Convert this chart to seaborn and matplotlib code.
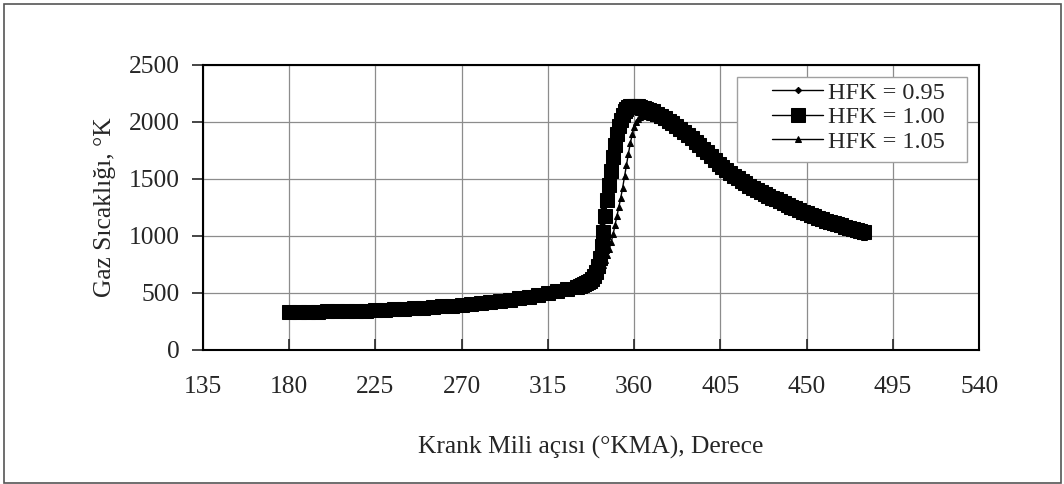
import matplotlib
matplotlib.use("Agg")
import matplotlib.pyplot as plt
import pandas as pd
import seaborn as sns
from matplotlib.patches import Rectangle

# crank angle (deg) - same grid for all three runs
angle = [180, 185, 190, 195, 200, 205, 210, 215, 220, 225, 230, 235, 240, 245, 250,
         255, 260, 265, 270, 275, 280, 285, 290, 295, 300, 305, 310, 315, 320, 325, 330,
         332, 333, 334, 335, 336, 337, 338, 339, 340, 341, 342, 343, 344, 345, 346, 347,
         348, 349, 350, 351, 352, 353, 354, 355, 356, 357, 358, 359, 360, 361, 362, 363,
         364, 365, 366,
         368, 370, 372, 374, 376, 378, 380, 382, 384, 386, 388, 390, 392, 394, 396, 398,
         400, 402, 404, 406, 408, 410, 412, 414, 416, 418, 420, 422, 424, 426, 428, 430,
         432, 434, 436, 438, 440, 442, 444, 446, 448, 450, 452, 454, 456, 458, 460, 462,
         464, 466, 468, 470, 472, 474, 476, 478, 480]

temp_095 = [323, 326, 329, 331, 333, 335, 337, 339, 340, 342, 346, 350, 355, 360, 366,
            372, 378, 384, 390, 397, 405, 414, 424, 436, 449, 463, 477, 491, 507, 526, 548,
            562, 569, 578, 590, 605, 628, 660, 710, 780, 870, 980, 1110, 1250, 1390, 1530, 1660,
            1780, 1875, 1950, 2000, 2040, 2063, 2080, 2090, 2095, 2098, 2100, 2098, 2095, 2092, 2088, 2083,
            2078, 2073, 2068,
            2057, 2045, 2030, 2013, 1995, 1975, 1955, 1934, 1912, 1889, 1863, 1835, 1807, 1779, 1750, 1720,
            1690, 1656, 1622, 1592, 1566, 1540, 1516, 1492, 1470, 1449, 1428, 1409, 1391, 1374, 1358, 1342,
            1326, 1310, 1294, 1278, 1263, 1248, 1233, 1218, 1203, 1189, 1176, 1163, 1150, 1138, 1126, 1115,
            1104, 1094, 1084, 1074, 1064, 1055, 1046, 1037, 1028]

temp_100 = [325, 328, 331, 333, 335, 337, 339, 341, 342, 344, 348, 352, 357, 362, 368,
            374, 380, 386, 392, 399, 407, 416, 426, 438, 451, 465, 479, 493, 510, 530, 552,
            560, 565, 572, 580, 590, 603, 620, 645, 680, 730, 800, 905, 1030, 1170, 1310, 1445,
            1570, 1690, 1800, 1890, 1960, 2015, 2060, 2092, 2115, 2128, 2135, 2139, 2140, 2138, 2135, 2130,
            2125, 2120, 2115,
            2103, 2090, 2072, 2051, 2030, 2008, 1985, 1961, 1937, 1912, 1884, 1855, 1825, 1795, 1764, 1732,
            1700, 1666, 1632, 1602, 1576, 1550, 1526, 1502, 1479, 1458, 1437, 1418, 1399, 1382, 1366, 1350,
            1334, 1318, 1302, 1286, 1270, 1255, 1240, 1225, 1210, 1195, 1182, 1169, 1156, 1144, 1132, 1121,
            1110, 1100, 1090, 1080, 1070, 1061, 1052, 1043, 1035]

temp_105 = [321, 324, 327, 329, 331, 333, 335, 337, 338, 340, 344, 348, 353, 358, 364,
            370, 376, 382, 388, 395, 403, 412, 422, 434, 447, 461, 475, 489, 505, 524, 545,
            555, 560, 565, 571, 578, 586, 595, 608, 625, 645, 670, 702, 740, 782, 830, 880,
            940, 1010, 1090, 1170, 1250, 1330, 1420, 1520, 1620, 1720, 1810, 1890, 1950, 1995, 2025, 2042,
            2050, 2052, 2050,
            2042, 2030, 2015, 1999, 1981, 1961, 1940, 1917, 1893, 1867, 1839, 1810, 1780, 1750, 1719, 1687,
            1655, 1621, 1587, 1557, 1531, 1505, 1481, 1457, 1435, 1413, 1392, 1373, 1354, 1337, 1320, 1304,
            1288, 1272, 1256, 1240, 1225, 1210, 1195, 1180, 1165, 1150, 1137, 1124, 1111, 1099, 1087, 1076,
            1065, 1055, 1045, 1035, 1026, 1017, 1008, 999, 990]

labels = ["HFK = 0.95", "HFK = 1.00", "HFK = 1.05"]
x_ticks = [135, 180, 225, 270, 315, 360, 405, 450, 495, 540]
y_ticks = [0, 500, 1000, 1500, 2000, 2500]

sns.set_style("white")
plt.rcParams["font.family"] = ["Liberation Serif", "DejaVu Serif"]

fig = plt.figure(figsize=(10.64, 4.84), dpi=100)
ax = fig.add_axes([202.7 / 1064, 1 - 349.5 / 484, 776.6 / 1064, 284.7 / 484])

# outer frame of the picture
fig.patches.append(Rectangle((4 / 1064, 1 / 484), 1057 / 1064, 479 / 484,
                             transform=fig.transFigure, fill=False,
                             edgecolor="#555555", linewidth=1.2))

styles = [
    dict(marker="D", markersize=3.2),
    dict(marker="s", markersize=10),
    dict(marker="^", markersize=4.5),
]
for temps, lab, st in zip([temp_095, temp_100, temp_105], labels, styles):
    df = pd.DataFrame({"angle": angle, "temp": temps})
    sns.lineplot(data=df, x="angle", y="temp", ax=ax, color="black", linewidth=1.0,
                 markeredgecolor="black", markerfacecolor="black", label=lab, **st)

ax.set_xlim(135, 540)
ax.set_ylim(0, 2500)
ax.set_xticks(x_ticks)
ax.set_yticks(y_ticks)
ax.grid(True, color="#8c8c8c", linewidth=0.9)
ax.set_axisbelow(True)
for s in ax.spines.values():
    s.set_color("black")
    s.set_linewidth(1.5)

ax.tick_params(axis="y", direction="out", length=8, width=1.2, pad=8.6, labelsize=18.4, left=True)
ax.tick_params(axis="x", direction="in", length=8, width=1.2, pad=19, labelsize=18.4, bottom=True)

ax.set_xlabel("Krank Mili açısı (°KMA), Derece", fontsize=18.4)
ax.set_ylabel("Gaz Sıcaklığı, °K", fontsize=18.4)
ax.xaxis.set_label_coords(0.5, -0.302)
ax.yaxis.set_label_coords(-0.112, 0.5)

# legend box drawn separately so it keeps the wide left margin of the original
ax.add_patch(Rectangle((0.688, 0.6586), 0.2965, 0.2984, transform=ax.transAxes,
                       facecolor="white", edgecolor="#a0a0a0", linewidth=1.0, zorder=5))
leg = ax.legend(loc="upper left", bbox_to_anchor=(0.727, 0.957), borderaxespad=0,
                fontsize=17.5, frameon=False, handlelength=2.1, handletextpad=0.2,
                labelspacing=0.1, borderpad=0.2)
leg.set_zorder(6)

fig.savefig("out.png", dpi=100)
